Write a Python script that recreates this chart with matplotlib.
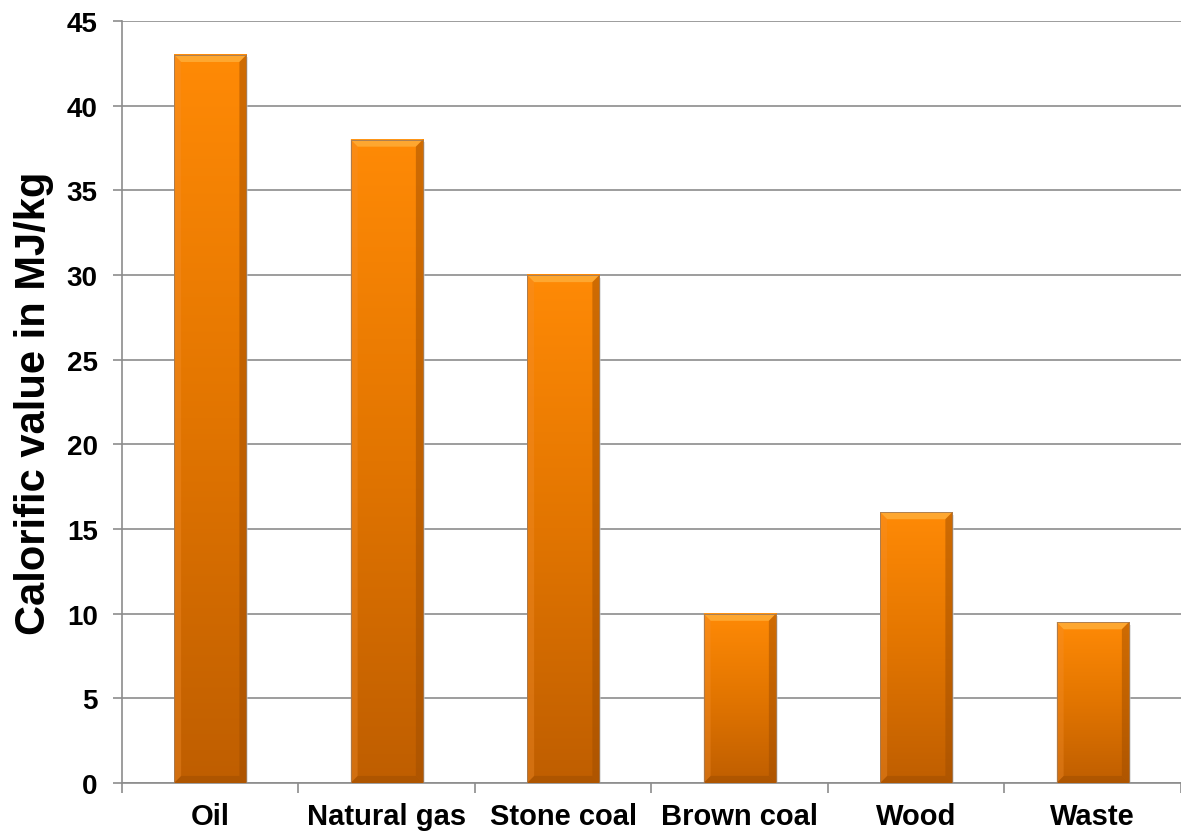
import numpy as np
import matplotlib
matplotlib.use("Agg")
import matplotlib.pyplot as plt
from matplotlib.patches import Polygon, Rectangle
from matplotlib.colors import LinearSegmentedColormap

# Calorific values of common fuels
fuels = ["Oil", "Natural gas", "Stone coal", "Brown coal", "Wood", "Waste"]
calorific = [43, 38, 30, 10, 16, 9.5]

plt.rcParams["font.family"] = ["Liberation Sans", "DejaVu Sans"]
plt.rcParams["font.weight"] = "bold"

fig = plt.figure(figsize=(11.81, 8.37), dpi=100)
ax = fig.add_axes([0.1033, 0.0633, 0.8967, 0.9104])

ax.set_xlim(-0.5, len(fuels) - 0.5)
ax.set_ylim(0, 45)

# orange gradient, bright at the top and darker towards the base
cmap = LinearSegmentedColormap.from_list("bar", ["#bf5e00", "#e27500", "#ff8a06"])
grad = np.linspace(0, 1, 256).reshape(-1, 1)

width = 0.41
bx = 0.04    # bevel width in x units
by = 0.42    # bevel height in y units
for i, v in enumerate(calorific):
    x0, x1 = i - width / 2, i + width / 2
    # soft shadow
    ax.add_patch(Rectangle((x0 + 0.01, -0.15), width, v, facecolor="#c8c8c8",
                           edgecolor="none", alpha=0.5, zorder=2))
    ax.imshow(grad, extent=(x0, x1, 0, v), origin="lower", cmap=cmap,
              aspect="auto", zorder=3, interpolation="bicubic")
    # bevel edges
    ax.add_patch(Polygon([(x0, v), (x1, v), (x1 - bx, v - by), (x0 + bx, v - by)],
                         facecolor="#ffab35", edgecolor="none", alpha=0.9, zorder=4))
    ax.add_patch(Polygon([(x0, 0), (x1, 0), (x1 - bx, by), (x0 + bx, by)],
                         facecolor="#a45000", edgecolor="none", alpha=0.6, zorder=4))
    ax.add_patch(Polygon([(x0, 0), (x0 + bx, by), (x0 + bx, v - by), (x0, v)],
                         facecolor="#f59030", edgecolor="none", alpha=0.35, zorder=4))
    ax.add_patch(Polygon([(x1, 0), (x1 - bx, by), (x1 - bx, v - by), (x1, v)],
                         facecolor="#a04e00", edgecolor="none", alpha=0.5, zorder=4))
    ax.add_patch(Rectangle((x0, 0), width, v, facecolor="none",
                           edgecolor="#a07a58", linewidth=0.6, zorder=5))

ax.set_yticks(np.arange(0, 46, 5))
ax.yaxis.grid(True, color="#8c8c8c", linewidth=1.2)
ax.set_axisbelow(True)

# category boundaries as x ticks, names centred between them
ax.set_xticks(np.arange(-0.5, len(fuels), 1))
ax.set_xticklabels([])
ax.set_xticks(np.arange(len(fuels)), minor=True)
ax.set_xticklabels(fuels, minor=True, fontsize=21, fontweight="bold")
ax.tick_params(axis="x", which="minor", length=0, pad=14)
ax.tick_params(axis="x", which="major", length=7, width=1.2, color="#8c8c8c")
ax.tick_params(axis="y", length=6.5, width=1.2, color="#8c8c8c", labelsize=20, pad=11)
for lab in ax.get_yticklabels():
    lab.set_fontweight("bold")

for side in ["top", "right"]:
    ax.spines[side].set_visible(False)
for side in ["left", "bottom"]:
    ax.spines[side].set_color("#8c8c8c")
    ax.spines[side].set_linewidth(1.2)

ax.set_ylabel("Calorific value in MJ/kg", fontsize=30, fontweight="bold", labelpad=9)

fig.savefig("out.png", dpi=100)
